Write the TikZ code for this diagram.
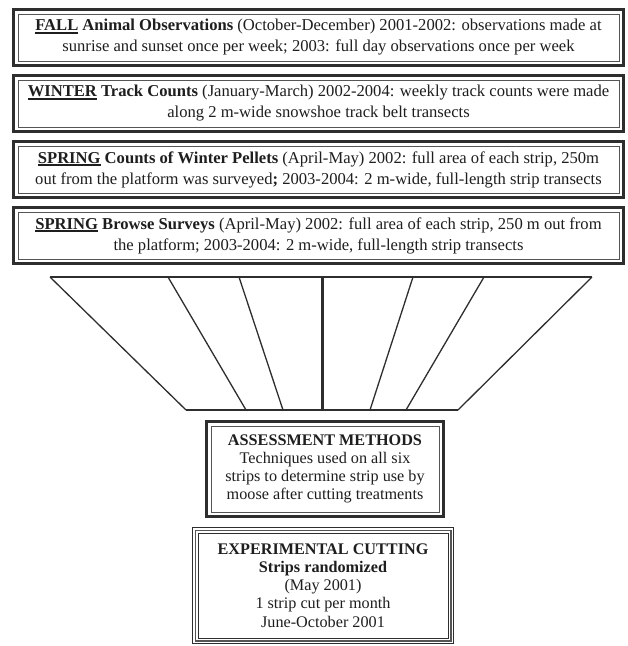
\documentclass[tikz,border=0pt]{standalone}
\usepackage{fontspec}
\setmainfont{Liberation Serif}
\definecolor{linec}{HTML}{2E2E2E}
\definecolor{linein}{HTML}{555555}
\definecolor{txt}{HTML}{1E1E1E}
\newcommand\myul[1]{\setbox0\hbox{#1}\rlap{\rule[-2.8pt]{\wd0}{1.4pt}}\box0\relax}
\newcommand\thickthin[1]{%
  \draw[line width=3.6pt, linec] ([shift={(1.8,1.8)}]#1.north west) rectangle ([shift={(-1.8,-1.8)}]#1.south east);
  \draw[line width=0.9pt, linein] ([shift={(6.2,6.2)}]#1.north west) rectangle ([shift={(-6.2,-6.2)}]#1.south east);}
\newcommand\triplebox[1]{%
  \draw[line width=1.2pt, linec] ([shift={(0.6,0.6)}]#1.north west) rectangle ([shift={(-0.6,-0.6)}]#1.south east);
  \draw[line width=1.4pt, linein] ([shift={(3.4,3.4)}]#1.north west) rectangle ([shift={(-3.4,-3.4)}]#1.south east);
  \draw[line width=0.9pt, linec] ([shift={(6.2,6.2)}]#1.north west) rectangle ([shift={(-6.2,-6.2)}]#1.south east);}
\begin{document}
\begin{tikzpicture}[x=1pt, y=-1pt,
  topbox/.style={minimum width=613pt, minimum height=59pt, inner sep=0pt, align=center, text=txt,
    font=\fontsize{16.6}{21}\selectfont},
  midbox/.style={inner sep=0pt, align=center, text=txt, font=\fontsize{16.2}{18.2}\selectfont},
  strip/.style={line width=1.3pt, linec},
  centre/.style={line width=3pt, linec}]
\useasboundingbox (0,0) rectangle (628,646);
\fill[white] (0,0) rectangle (628,646);

\node[topbox] (fall) at (318.5,37.5) {\textbf{\myul{FALL} Animal Observations} (October-December) 2001-2002: observations made at\\ sunrise and sunset once per week; 2003: full day observations once per week};
\node[topbox] (winter) at (318.5,103.5) {\textbf{\myul{WINTER} Track Counts} (January-March) 2002-2004: weekly track counts were made\\ along 2 m-wide snowshoe track belt transects};
\node[topbox] (pellets) at (318.5,169.5) {\textbf{\myul{SPRING} Counts of Winter Pellets} (April-May) 2002: full area of each strip, 250m\\ out from the platform was surveyed\textbf{;} 2003-2004: 2 m-wide, full-length strip transects};
\node[topbox] (browse) at (318.5,235.5) {\textbf{\myul{SPRING} Browse Surveys} (April-May) 2002: full area of each strip, 250 m out from\\ the platform; 2003-2004: 2 m-wide, full-length strip transects};
\thickthin{fall}
\thickthin{winter}
\thickthin{pellets}
\thickthin{browse}

% trapezoid of strips
\coordinate (t0) at (50,277);  \coordinate (b0) at (186,410);
\coordinate (t1) at (168,277); \coordinate (b1) at (246,410);
\coordinate (t2) at (239,277); \coordinate (b2) at (283,410);
\coordinate (t3) at (322,277); \coordinate (b3) at (322,410);
\coordinate (t4) at (413,277); \coordinate (b4) at (370,410);
\coordinate (t5) at (484,277); \coordinate (b5) at (406,410);
\coordinate (t6) at (592,277); \coordinate (b6) at (458,410);
\draw[line width=1.6pt, linec] (t0) -- (t6);
\draw[line width=1.8pt, linec] (b0) -- (b6);
\draw[strip] (t0) -- (b0);
\draw[strip] (t1) -- (b1);
\draw[strip] (t2) -- (b2);
\draw[centre] (t3) -- (b3);
\draw[strip] (t4) -- (b4);
\draw[strip] (t5) -- (b5);
\draw[strip] (t6) -- (b6);

\node[midbox, minimum width=240pt, minimum height=98pt] (assess) at (325,469) {\textbf{ASSESSMENT METHODS}\\ Techniques used on all six\\ strips to determine strip use by\\ moose after cutting treatments};
\thickthin{assess}

\node[midbox, minimum width=262pt, minimum height=117pt] (exp) at (323,585.5) {\textbf{EXPERIMENTAL CUTTING}\\ \textbf{Strips randomized}\\ (May 2001)\\ 1 strip cut per month\\ June-October 2001};
\triplebox{exp}
\end{tikzpicture}
\end{document}
